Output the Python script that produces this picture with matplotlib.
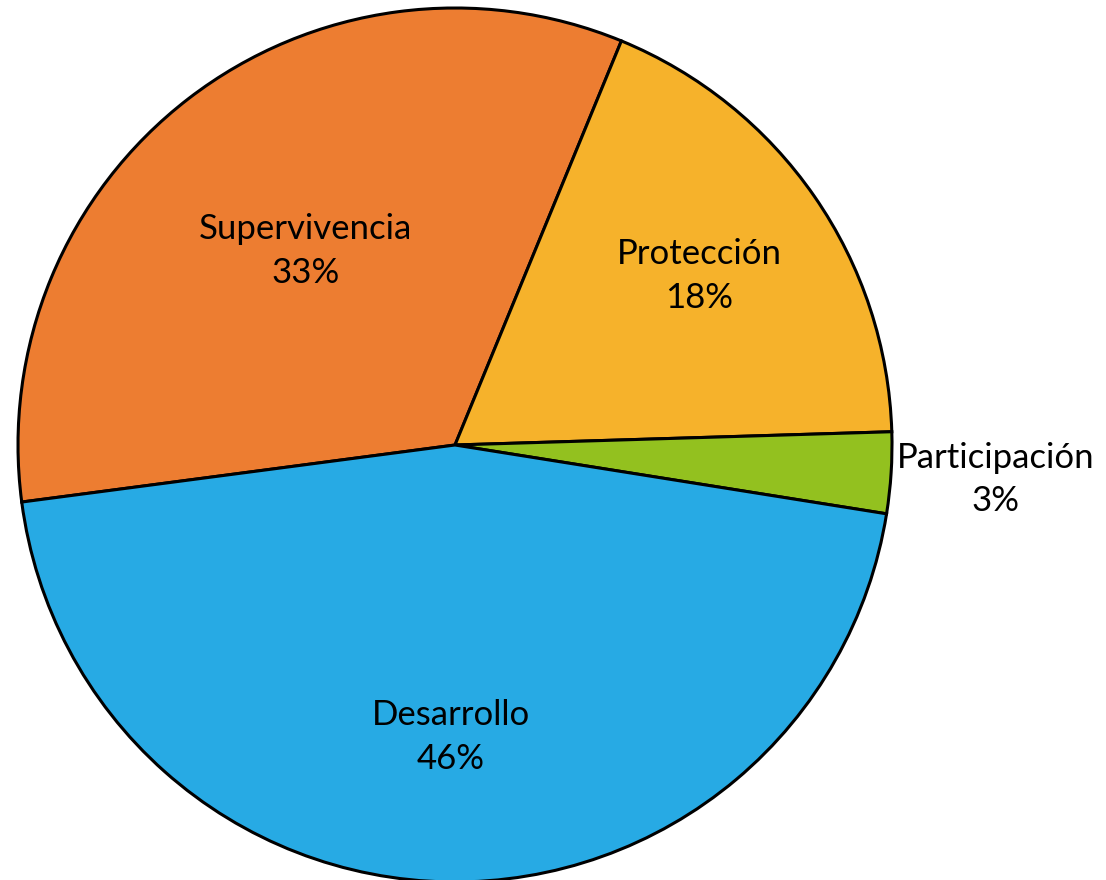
import numpy as np
import matplotlib as mpl

mpl.use('Agg')
import matplotlib.pyplot as plt

# data
categories = ['Supervivencia', 'Protección', 'Participación', 'Desarrollo']
shares = [33.3, 18.3, 3.0, 45.4]
pct_labels = ['33%', '18%', '3%', '46%']
colors = ['#ED7D31', '#F6B22B', '#93C11F', '#27AAE4']

# how far from the centre each label sits (fraction of radius)
label_dist = [0.56, 0.68, 1.24, 0.668]

plt.rcParams['font.family'] = ['Lato', 'DejaVu Sans']

W, H = 1106, 880
fig = plt.figure(figsize=(W / 100, H / 100), dpi=100)
cx, cy, r = 455, 445, 437
ax = fig.add_axes([(cx - r) / W, (H - cy - r) / H, 2 * r / W, 2 * r / H])

wedges, _ = ax.pie(shares, colors=colors, startangle=187.5, counterclock=False,
                   radius=1.0,
                   wedgeprops=dict(edgecolor='black', linewidth=2.2))

for w, name, pct, d in zip(wedges, categories, pct_labels, label_dist):
    mid = np.deg2rad((w.theta1 + w.theta2) / 2)
    ax.text(d * np.cos(mid), d * np.sin(mid), f'{name}\n{pct}',
            ha='center', va='center', fontsize=25, color='black',
            linespacing=1.45)

ax.set_xlim(-1, 1)
ax.set_ylim(-1, 1)
ax.set_aspect('equal')
ax.axis('off')

fig.savefig('out.png', dpi=100)
